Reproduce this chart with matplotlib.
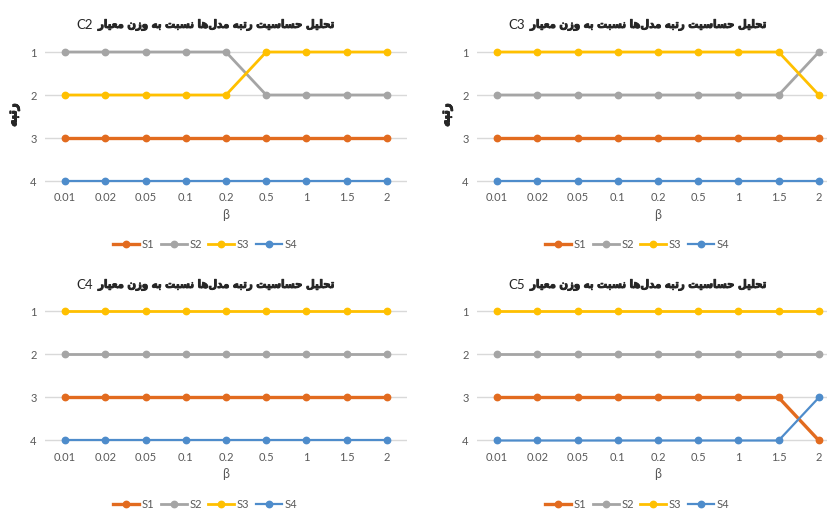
import matplotlib
matplotlib.use("Agg")
import matplotlib.pyplot as plt
from matplotlib.lines import Line2D
import matplotlib.patheffects as pe

# ---------------- data ----------------
beta = ['0.01', '0.02', '0.05', '0.1', '0.2', '0.5', '1', '1.5', '2']
series = ['S1', 'S2', 'S3', 'S4']

c2_s1 = [3, 3, 3, 3, 3, 3, 3, 3, 3]
c2_s2 = [1, 1, 1, 1, 1, 2, 2, 2, 2]
c2_s3 = [2, 2, 2, 2, 2, 1, 1, 1, 1]
c2_s4 = [4, 4, 4, 4, 4, 4, 4, 4, 4]

c3_s1 = [3, 3, 3, 3, 3, 3, 3, 3, 3]
c3_s2 = [2, 2, 2, 2, 2, 2, 2, 2, 1]
c3_s3 = [1, 1, 1, 1, 1, 1, 1, 1, 2]
c3_s4 = [4, 4, 4, 4, 4, 4, 4, 4, 4]

c4_s1 = [3, 3, 3, 3, 3, 3, 3, 3, 3]
c4_s2 = [2, 2, 2, 2, 2, 2, 2, 2, 2]
c4_s3 = [1, 1, 1, 1, 1, 1, 1, 1, 1]
c4_s4 = [4, 4, 4, 4, 4, 4, 4, 4, 4]

c5_s1 = [3, 3, 3, 3, 3, 3, 3, 3, 4]
c5_s2 = [2, 2, 2, 2, 2, 2, 2, 2, 2]
c5_s3 = [1, 1, 1, 1, 1, 1, 1, 1, 1]
c5_s4 = [4, 4, 4, 4, 4, 4, 4, 4, 3]

criteria = ['C2', 'C3', 'C4', 'C5']
title_fa = 'تحلیل حساسیت رتبه مدل\u200cها نسبت به وزن معیار'
ylabel_fa = 'رتبه'
xlabel = 'β'

# ---------------- simple Persian shaping (presentation forms) ----------------
FORMS = {
    '\u0627': ('\uFE8D', '\uFE8E', None, None),
    '\u0628': ('\uFE8F', '\uFE90', '\uFE91', '\uFE92'),
    '\u062A': ('\uFE95', '\uFE96', '\uFE97', '\uFE98'),
    '\u062D': ('\uFEA1', '\uFEA2', '\uFEA3', '\uFEA4'),
    '\u062F': ('\uFEA9', '\uFEAA', None, None),
    '\u0631': ('\uFEAD', '\uFEAE', None, None),
    '\u0632': ('\uFEAF', '\uFEB0', None, None),
    '\u0633': ('\uFEB1', '\uFEB2', '\uFEB3', '\uFEB4'),
    '\u0639': ('\uFEC9', '\uFECA', '\uFECB', '\uFECC'),
    '\u0644': ('\uFEDD', '\uFEDE', '\uFEDF', '\uFEE0'),
    '\u0645': ('\uFEE1', '\uFEE2', '\uFEE3', '\uFEE4'),
    '\u0646': ('\uFEE5', '\uFEE6', '\uFEE7', '\uFEE8'),
    '\u0647': ('\uFEE9', '\uFEEA', '\uFEEB', '\uFEEC'),
    '\u0648': ('\uFEED', '\uFEEE', None, None),
    '\u06CC': ('\uFBFC', '\uFBFD', '\uFBFE', '\uFBFF'),
}


def shape_rtl(text):
    chars = list(text)
    out = []
    for i, c in enumerate(chars):
        if c not in FORMS:
            if c != '\u200c':
                out.append(c)
            continue
        prev = chars[i - 1] if i > 0 else None
        nxt = chars[i + 1] if i + 1 < len(chars) else None
        iso, fin, ini, med = FORMS[c]
        jp = prev in FORMS and FORMS[prev][2] is not None
        jn = nxt in FORMS and ini is not None
        if jp and jn:
            f = med
        elif jp:
            f = fin
        elif jn:
            f = ini
        else:
            f = iso
        out.append(f)
    return ''.join(reversed(out))


# ---------------- styling ----------------
colors = ['#E26B1F', '#A5A5A5', '#FFC000', '#4E8CCB']
lws = [2.4, 2.0, 2.0, 1.6]
grid_c = '#D9D9D9'
txt_c = '#595959'
fa_font = ['DejaVu Sans']
lat_font = ['Lato', 'DejaVu Sans']
bold_fx = [pe.withStroke(linewidth=0.7, foreground='#262626')]

W, H = 827, 511
fig = plt.figure(figsize=(W / 100, H / 100), dpi=100)

data = {
    'C2': [c2_s1, c2_s2, c2_s3, c2_s4],
    'C3': [c3_s1, c3_s2, c3_s3, c3_s4],
    'C4': [c4_s1, c4_s2, c4_s3, c4_s4],
    'C5': [c5_s1, c5_s2, c5_s3, c5_s4],
}

# pixel layout: (axes left px, y of rank1 px, title center x, title y, ylabel x)
layout = {
    'C2': (45, 52, 205, 25, 13),
    'C3': (477, 52, 637, 25, 446),
    'C4': (45, 311.5, 205, 285, 13),
    'C5': (477, 311.5, 637, 285, 446),
}

unit = 43.0  # px per rank
margin = 0.1
ax_w = 362.0
title_w = 248.0
titles = []
for crit in criteria:
    lx, y1, tcx, ty, ylx = layout[crit]
    top_px = y1 - margin * unit
    height_px = (3 + 2 * margin) * unit
    ax = fig.add_axes([lx / W, 1 - (top_px + height_px) / H, ax_w / W, height_px / H])
    x = list(range(len(beta)))
    for k, s in enumerate(series):
        ax.plot(x, data[crit][k], color=colors[k], lw=lws[k], marker='o',
                markersize=4.6, zorder=3 + k, clip_on=False, label=s)
    ax.set_xlim(-0.5, len(beta) - 0.5)
    ax.set_ylim(4 + margin, 1 - margin)
    ax.set_yticks([1, 2, 3, 4])
    ax.set_xticks(x)
    ax.set_xticklabels(beta, family=lat_font, fontsize=8, color=txt_c)
    ax.set_yticklabels(['1', '2', '3', '4'], family=lat_font, fontsize=8, color=txt_c)
    ax.tick_params(length=0, pad=5)
    ax.tick_params(axis='y', pad=6)
    ax.grid(axis='y', color=grid_c, lw=1.0, zorder=0)
    ax.set_axisbelow(True)
    for sp in ax.spines.values():
        sp.set_visible(False)
    ax.set_xlabel(xlabel, family=lat_font, fontsize=9, color=txt_c, labelpad=4)
    fig.text(ylx / W, 1 - 115 / H, shape_rtl(ylabel_fa), rotation=90,
             ha='center', va='center', fontsize=9.5, fontweight='bold',
             family=fa_font, fontstretch='condensed', color='#262626',
             path_effects=bold_fx)
    right_x = tcx + title_w / 2
    tfa = fig.text(right_x / W, 1 - ty / H, shape_rtl(title_fa),
                   ha='right', va='center', fontsize=8.1, fontweight='bold',
                   family=fa_font, fontstretch='condensed', color='#262626',
                   path_effects=bold_fx)
    tc = fig.text(0, 1 - ty / H, crit, ha='right', va='center', fontsize=9.5,
                  family=lat_font, color='#262626')
    titles.append((tfa, tc, tcx))
    handles = [Line2D([0], [0], color=colors[k], lw=lws[k], marker='o', markersize=4.6)
               for k in range(len(series))]
    leg = fig.legend(handles, series, loc='center', ncol=4,
                     bbox_to_anchor=(tcx / W, 1 - (ty + 219) / H), frameon=False,
                     prop={'family': lat_font, 'size': 8}, handlelength=2.35,
                     handletextpad=0.2, columnspacing=0.6)
    for t in leg.get_texts():
        t.set_color(txt_c)

# center combined titles (Persian bold + criterion regular)
fig.canvas.draw()
r = fig.canvas.get_renderer()
for tfa, tc, tcx in titles:
    bfa = tfa.get_window_extent(r)
    tc.set_x((bfa.x0 - 5) / W)
    bc = tc.get_window_extent(r)
    total_left = bfa.x0 - 5 - bc.width
    total_w = bfa.x1 - total_left
    shift = tcx - (total_left + total_w / 2)
    tfa.set_x((bfa.x1 + shift) / W)
    tc.set_x((bfa.x0 - 5 + shift) / W)

fig.savefig('out.png', dpi=100)
